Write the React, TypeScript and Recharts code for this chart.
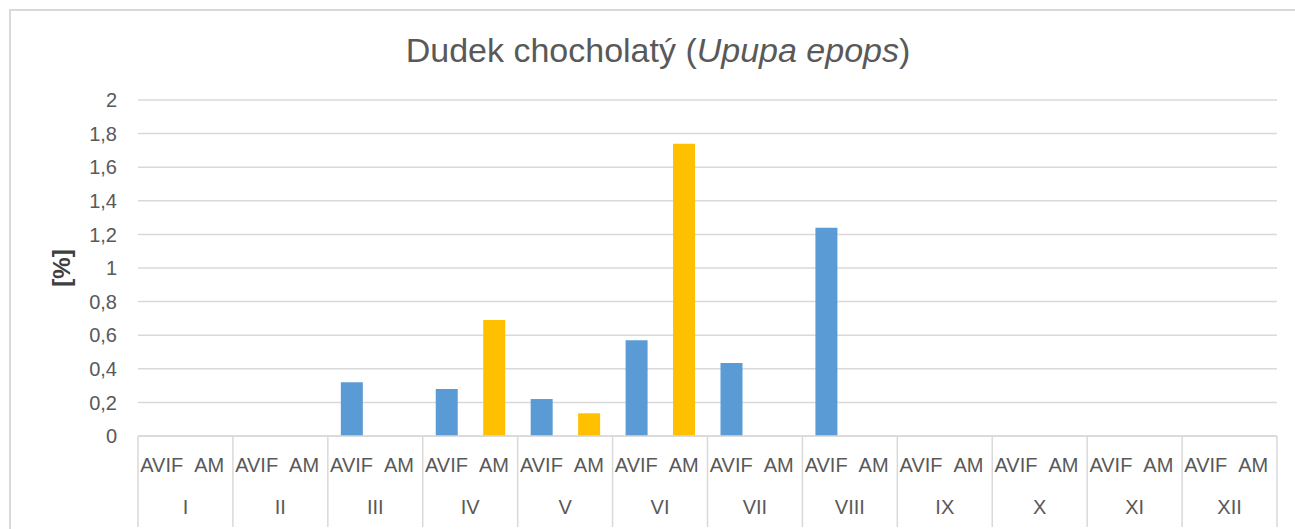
import React from "react";
import { BarChart, Bar, XAxis, YAxis, CartesianGrid } from "recharts";

const months = ["I", "II", "III", "IV", "V", "VI", "VII", "VIII", "IX", "X", "XI", "XII"];
const types = ["AVIF", "AM"];
const avif = [0, 0, 0.32, 0.28, 0.22, 0.57, 0.435, 1.24, 0, 0, 0, 0];
const am = [0, 0, 0, 0.69, 0.135, 1.74, 0, 0, 0, 0, 0, 0];
const yTicks = [0, 0.2, 0.4, 0.6, 0.8, 1, 1.2, 1.4, 1.6, 1.8, 2];
const monthTicks = [0, 0.5, 1, 1.5, 2, 2.5, 3, 3.5, 4, 4.5, 5, 5.5, 6, 6.5, 7, 7.5, 8, 8.5, 9, 9.5, 10, 10.5, 11, 11.5, 12];

const data = months.flatMap((m, i) => [
  { key: m + "-" + types[0], type: types[0], month: m, mi: i + 0.25, avif: avif[i], am: null },
  { key: m + "-" + types[1], type: types[1], month: m, mi: i + 0.75, avif: null, am: am[i] },
]);

const W = 1295;
const H = 529;
const PLOT_BOTTOM = 436;
const AXIS_BOTTOM = 527;
const GRID = "#d9d9d9";
const TEXT = "#595959";
const FONT = "'Liberation Sans', Arial, sans-serif";

const TypeTick = (props: any) => {
  const { x, payload } = props;
  const label = String(payload.value).split("-")[1];
  return (
    <text x={x} y={PLOT_BOTTOM + 29} textAnchor="middle" dominantBaseline="central" fill={TEXT} fontSize={20} fontFamily={FONT}>
      {label}
    </text>
  );
};

const MonthTick = (props: any) => {
  const { x, payload } = props;
  const v = payload.value as number;
  if (Number.isInteger(v)) {
    return <line x1={x} x2={x} y1={PLOT_BOTTOM} y2={AXIS_BOTTOM} stroke={GRID} strokeWidth={1.5} />;
  }
  const label = months[Math.floor(v)];
  return (
    <text x={x} y={507} textAnchor="middle" dominantBaseline="central" fill={TEXT} fontSize={20} fontFamily={FONT}>
      {label}
    </text>
  );
};

export default function App() {
  return (
    <div style={{ position: "fixed", left: 0, top: 0, width: W, height: H, overflow: "hidden", background: "#fff" }}>
      <div style={{ position: "absolute", left: 9, top: 9, width: 1400, height: 700, border: `2px solid ${GRID}`, boxSizing: "border-box" }} />
      <div
        style={{
          position: "absolute",
          left: 0,
          top: 32,
          width: 1316,
          textAlign: "center",
          fontFamily: FONT,
          fontSize: 34,
          lineHeight: "36px",
          color: TEXT,
        }}
      >
        Dudek chocholatý (<span style={{ fontStyle: "italic" }}>Upupa epops</span>)
      </div>
      <div style={{ position: "absolute", left: 0, top: 0 }}>
        <BarChart width={W} height={H} data={data} margin={{ top: 100, right: 18, left: 78, bottom: 0 }} barSize={22}>
          <CartesianGrid vertical={false} stroke={GRID} strokeWidth={1.5} />
          <YAxis
            width={60}
            domain={[0, 2]}
            ticks={yTicks}
            interval={0}
            axisLine={false}
            tickLine={false}
            tickSize={0}
            tickMargin={21}
            tick={{ fill: TEXT, fontSize: 20, fontFamily: FONT }}
            tickFormatter={(v: number) => String(v).replace(".", ",")}
            label={{
              value: "[%]",
              angle: -90,
              position: "insideLeft",
              dx: -22,
              style: { fill: "#404040", fontSize: 24, fontWeight: "bold", fontFamily: FONT, textAnchor: "middle" },
            }}
          />
          <XAxis
            dataKey="key"
            height={47}
            interval={0}
            tickLine={false}
            tickSize={0}
            axisLine={{ stroke: GRID, strokeWidth: 1.5 }}
            tick={<TypeTick />}
          />
          <XAxis
            xAxisId="m"
            dataKey="mi"
            type="number"
            domain={[0, 12]}
            allowDataOverflow
            ticks={monthTicks}
            interval={0}
            height={46}
            axisLine={false}
            tickLine={false}
            tickSize={0}
            tick={<MonthTick />}
          />
          <Bar dataKey="avif" stackId="s" fill="#5b9bd5" isAnimationActive={false} />
          <Bar dataKey="am" stackId="s" fill="#ffc000" isAnimationActive={false} />
        </BarChart>
      </div>
    </div>
  );
}
